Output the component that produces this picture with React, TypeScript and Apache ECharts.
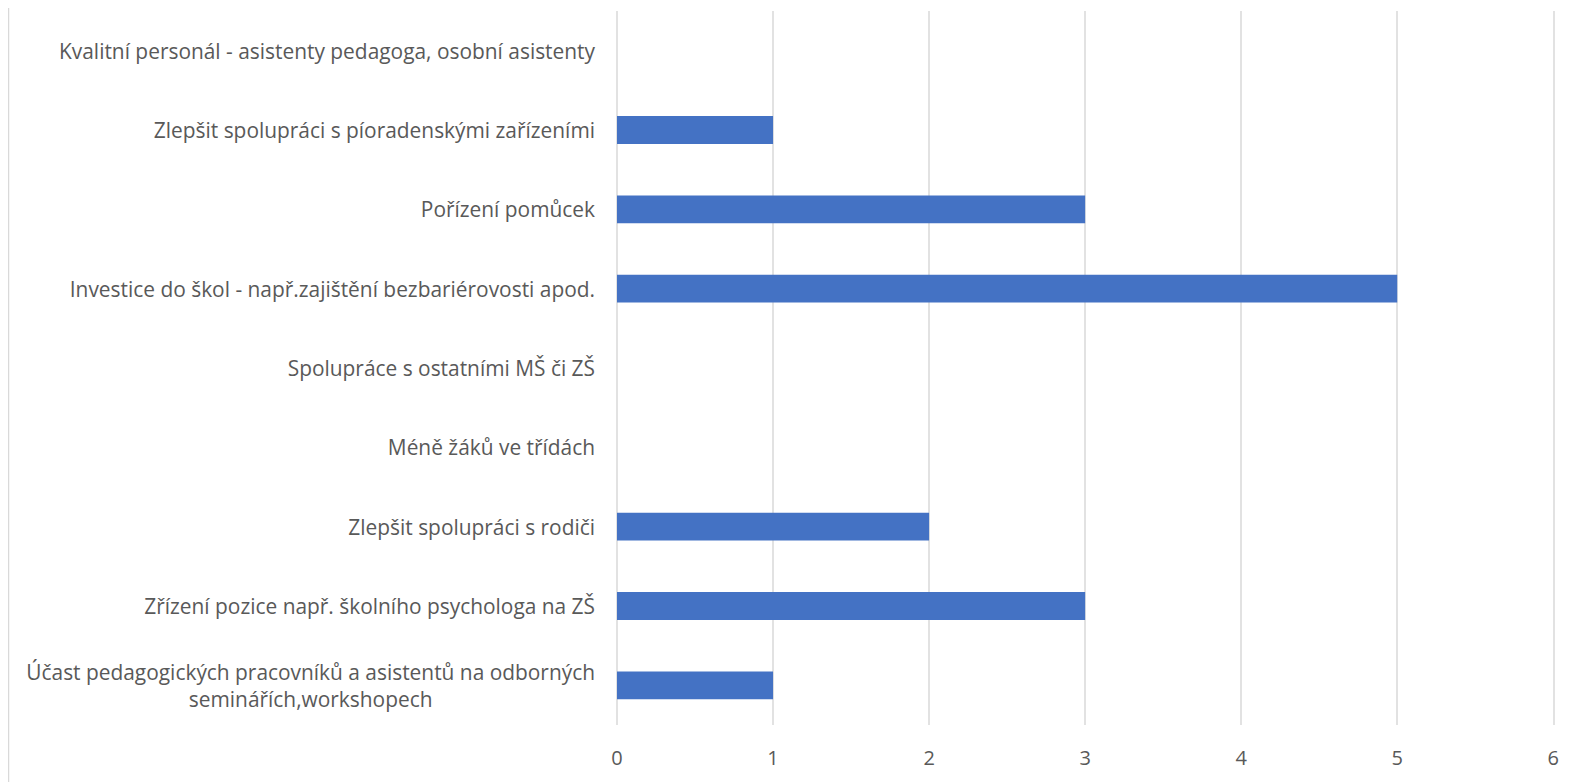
import React, { useEffect, useRef } from "react";
import * as echarts from "echarts";

// top-to-bottom order as shown in the chart
const categoriesTopDown = [
  "Kvalitní personál - asistenty pedagoga, osobní asistenty",
  "Zlepšit spolupráci s píoradenskými zařízeními",
  "Pořízení pomůcek",
  "Investice do škol - např.zajištění bezbariérovosti apod.",
  "Spolupráce s ostatními MŠ či ZŠ",
  "Méně žáků ve třídách",
  "Zlepšit spolupráci s rodiči",
  "Zřízení pozice např. školního psychologa na ZŠ",
  "Účast pedagogických pracovníků a asistentů na odborných\nseminářích,workshopech",
];
const valuesTopDown = [0, 1, 3, 5, 0, 0, 2, 3, 1];
const xTicks = [0, 1, 2, 3, 4, 5, 6];

const FONT = "Open Sans";
const TEXT = "#595959";
const FS = 20.9;

export default function App() {
  const ref = useRef<HTMLDivElement>(null);
  useEffect(() => {
    if (!ref.current) return;
    const chart = echarts.init(ref.current, null, { renderer: "svg" });
    const cats = [...categoriesTopDown].reverse();
    const vals = [...valuesTopDown].reverse();
    chart.setOption({
      animation: false,
      backgroundColor: "#ffffff",
      grid: { left: 609, right: 8, top: 3, bottom: 57, containLabel: false },
      xAxis: {
        type: "value",
        min: xTicks[0],
        max: xTicks[xTicks.length - 1],
        interval: 1,
        axisLine: { show: false },
        axisTick: { show: false },
        splitLine: { show: true, lineStyle: { color: "#d9d9d9", width: 1.5 } },
        axisLabel: { color: TEXT, fontFamily: FONT, fontSize: 20, margin: 22 },
      },
      yAxis: {
        type: "category",
        data: cats,
        axisLine: { show: false },
        axisTick: { show: false },
        axisLabel: {
          color: TEXT,
          fontFamily: FONT,
          fontSize: FS,
          margin: 22,
          lineHeight: 27,
          formatter: (v: string) =>
            v
              .split("\n")
              .map((l) => "{c|" + l + "}")
              .join("\n"),
          rich: {
            c: { align: "center", color: TEXT, fontFamily: FONT, fontSize: FS, lineHeight: 27 },
          },
        },
      },
      graphic: [
        {
          type: "line",
          shape: { x1: 0.5, y1: 0, x2: 0.5, y2: 790 },
          style: { stroke: "#d9d9d9", lineWidth: 1.5 },
        },
      ],
      series: [
        {
          type: "bar",
          data: vals,
          barWidth: "35%",
          itemStyle: { color: "#4472C4" },
        },
      ],
    });
    return () => chart.dispose();
  }, []);
  return <div ref={ref} style={{ width: 1554, height: 774 }} />;
}
